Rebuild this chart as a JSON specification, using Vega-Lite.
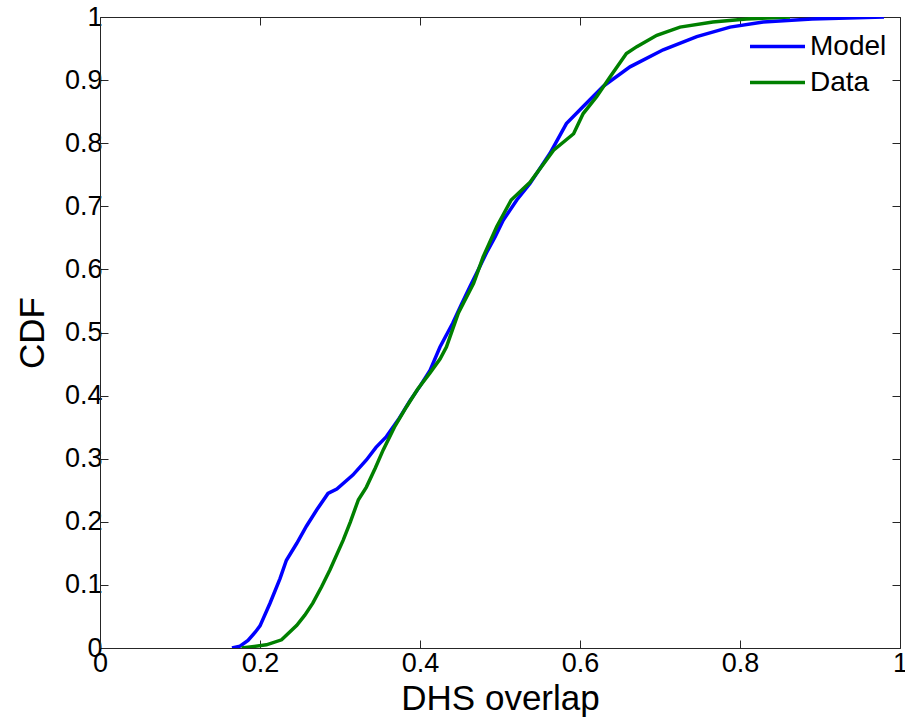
{
  "$schema": "https://vega.github.io/schema/vega-lite/v6.json",
  "width": 800,
  "height": 631,
  "autosize": {"type": "none"},
  "padding": {"left": 100, "top": 17, "right": 5, "bottom": 76},
  "background": "white",
  "config": {
    "view": {"stroke": null},
    "axis": {
      "grid": false,
      "domainColor": "#262626",
      "domainWidth": 1,
      "tickColor": "#262626",
      "tickSize": -8,
      "tickWidth": 1,
      "labelFont": "Liberation Sans",
      "labelFontSize": 27,
      "labelColor": "black",
      "labelFlush": false,
      "labelOverlap": false,
      "titleFont": "Liberation Sans",
      "titleFontSize": 35,
      "titleFontWeight": "normal",
      "titleColor": "black"
    },
    "legend": {
      "labelFont": "Liberation Sans",
      "labelFontSize": 28,
      "labelColor": "black"
    }
  },
  "data": {
    "values": [
      {"x": 0.165, "cdf": 0, "series": "Model"},
      {"x": 0.175, "cdf": 0.003, "series": "Model"},
      {"x": 0.185, "cdf": 0.012, "series": "Model"},
      {"x": 0.194, "cdf": 0.025, "series": "Model"},
      {"x": 0.2, "cdf": 0.035, "series": "Model"},
      {"x": 0.2125, "cdf": 0.071, "series": "Model"},
      {"x": 0.225, "cdf": 0.11, "series": "Model"},
      {"x": 0.233, "cdf": 0.139, "series": "Model"},
      {"x": 0.246, "cdf": 0.166, "series": "Model"},
      {"x": 0.258, "cdf": 0.193, "series": "Model"},
      {"x": 0.271, "cdf": 0.219, "series": "Model"},
      {"x": 0.285, "cdf": 0.245, "series": "Model"},
      {"x": 0.296, "cdf": 0.252, "series": "Model"},
      {"x": 0.316, "cdf": 0.274, "series": "Model"},
      {"x": 0.333, "cdf": 0.298, "series": "Model"},
      {"x": 0.345, "cdf": 0.318, "series": "Model"},
      {"x": 0.358, "cdf": 0.335, "series": "Model"},
      {"x": 0.373, "cdf": 0.362, "series": "Model"},
      {"x": 0.3875, "cdf": 0.392, "series": "Model"},
      {"x": 0.4, "cdf": 0.415, "series": "Model"},
      {"x": 0.4125, "cdf": 0.44, "series": "Model"},
      {"x": 0.425, "cdf": 0.477, "series": "Model"},
      {"x": 0.441, "cdf": 0.515, "series": "Model"},
      {"x": 0.452, "cdf": 0.545, "series": "Model"},
      {"x": 0.4625, "cdf": 0.573, "series": "Model"},
      {"x": 0.473, "cdf": 0.6, "series": "Model"},
      {"x": 0.483, "cdf": 0.626, "series": "Model"},
      {"x": 0.494, "cdf": 0.652, "series": "Model"},
      {"x": 0.504, "cdf": 0.678, "series": "Model"},
      {"x": 0.521, "cdf": 0.71, "series": "Model"},
      {"x": 0.5375, "cdf": 0.736, "series": "Model"},
      {"x": 0.5625, "cdf": 0.784, "series": "Model"},
      {"x": 0.583, "cdf": 0.831, "series": "Model"},
      {"x": 0.604, "cdf": 0.858, "series": "Model"},
      {"x": 0.629, "cdf": 0.89, "series": "Model"},
      {"x": 0.6625, "cdf": 0.921, "series": "Model"},
      {"x": 0.704, "cdf": 0.948, "series": "Model"},
      {"x": 0.746, "cdf": 0.969, "series": "Model"},
      {"x": 0.7875, "cdf": 0.984, "series": "Model"},
      {"x": 0.829, "cdf": 0.992, "series": "Model"},
      {"x": 0.89, "cdf": 0.997, "series": "Model"},
      {"x": 0.98, "cdf": 1.0, "series": "Model"},
      {"x": 0.177, "cdf": 0, "series": "Data"},
      {"x": 0.208, "cdf": 0.005, "series": "Data"},
      {"x": 0.227, "cdf": 0.013, "series": "Data"},
      {"x": 0.246, "cdf": 0.036, "series": "Data"},
      {"x": 0.256, "cdf": 0.052, "series": "Data"},
      {"x": 0.266, "cdf": 0.071, "series": "Data"},
      {"x": 0.277, "cdf": 0.097, "series": "Data"},
      {"x": 0.2875, "cdf": 0.124, "series": "Data"},
      {"x": 0.304, "cdf": 0.171, "series": "Data"},
      {"x": 0.313, "cdf": 0.2, "series": "Data"},
      {"x": 0.323, "cdf": 0.235, "series": "Data"},
      {"x": 0.333, "cdf": 0.255, "series": "Data"},
      {"x": 0.344, "cdf": 0.285, "series": "Data"},
      {"x": 0.354, "cdf": 0.314, "series": "Data"},
      {"x": 0.368, "cdf": 0.35, "series": "Data"},
      {"x": 0.383, "cdf": 0.382, "series": "Data"},
      {"x": 0.397, "cdf": 0.41, "series": "Data"},
      {"x": 0.4125, "cdf": 0.436, "series": "Data"},
      {"x": 0.425, "cdf": 0.458, "series": "Data"},
      {"x": 0.433, "cdf": 0.477, "series": "Data"},
      {"x": 0.448, "cdf": 0.531, "series": "Data"},
      {"x": 0.467, "cdf": 0.578, "series": "Data"},
      {"x": 0.479, "cdf": 0.62, "series": "Data"},
      {"x": 0.496, "cdf": 0.668, "series": "Data"},
      {"x": 0.514, "cdf": 0.71, "series": "Data"},
      {"x": 0.5375, "cdf": 0.738, "series": "Data"},
      {"x": 0.567, "cdf": 0.789, "series": "Data"},
      {"x": 0.592, "cdf": 0.815, "series": "Data"},
      {"x": 0.604, "cdf": 0.847, "series": "Data"},
      {"x": 0.621, "cdf": 0.874, "series": "Data"},
      {"x": 0.6375, "cdf": 0.905, "series": "Data"},
      {"x": 0.658, "cdf": 0.942, "series": "Data"},
      {"x": 0.671, "cdf": 0.953, "series": "Data"},
      {"x": 0.696, "cdf": 0.971, "series": "Data"},
      {"x": 0.725, "cdf": 0.984, "series": "Data"},
      {"x": 0.766, "cdf": 0.992, "series": "Data"},
      {"x": 0.808, "cdf": 0.997, "series": "Data"},
      {"x": 0.8625, "cdf": 1.0, "series": "Data"}
    ]
  },
  "layer": [
    {
      "mark": {"type": "line", "strokeWidth": 3.5, "clip": true},
      "encoding": {
        "x": {
          "field": "x", "type": "quantitative",
          "scale": {"domain": [0, 1], "nice": false, "zero": false},
          "axis": {"orient": "bottom", "values": [0, 0.2, 0.4, 0.6, 0.8, 1], "format": "~g", "title": "DHS overlap", "labelPadding": 10, "titlePadding": 5}
        },
        "y": {
          "field": "cdf", "type": "quantitative",
          "scale": {"domain": [0, 1], "nice": false, "zero": false},
          "axis": {"orient": "left", "values": [0, 0.1, 0.2, 0.3, 0.4, 0.5, 0.6, 0.7, 0.8, 0.9, 1], "format": "~g", "title": "CDF", "labelPadding": 6, "titlePadding": 14}
        },
        "color": {
          "field": "series", "type": "nominal",
          "scale": {"domain": ["Model", "Data"], "range": ["#0000ff", "#008000"]},
          "legend": {
            "title": null,
            "orient": "none",
            "legendX": 648,
            "legendY": 14.5,
            "symbolType": "stroke",
            "symbolSize": 3025,
            "symbolStrokeWidth": 3.5,
            "labelOffset": 3,
            "clipHeight": 30,
            "rowPadding": 6,
            "padding": 0
          }
        },
        "order": {"field": "x", "type": "quantitative"}
      }
    },
    {
      "mark": {"type": "line", "strokeOpacity": 0},
      "encoding": {
        "x": {
          "field": "x", "type": "quantitative",
          "axis": {"orient": "top", "values": [0, 0.2, 0.4, 0.6, 0.8, 1], "labels": false, "title": null}
        },
        "y": {
          "field": "cdf", "type": "quantitative",
          "axis": {"orient": "right", "values": [0, 0.1, 0.2, 0.3, 0.4, 0.5, 0.6, 0.7, 0.8, 0.9, 1], "labels": false, "title": null}
        },
        "detail": {"field": "series"}
      }
    }
  ],
  "resolve": {"axis": {"x": "independent", "y": "independent"}}
}
